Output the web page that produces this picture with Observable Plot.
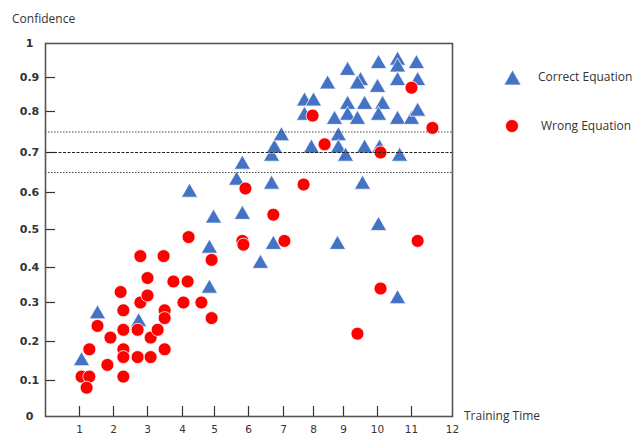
<!DOCTYPE html>
<html><head><meta charset="utf-8">
<script src="https://cdn.jsdelivr.net/npm/d3@7"></script>
<script src="https://cdn.jsdelivr.net/npm/@observablehq/plot@0.6"></script>
<style>
html,body{margin:0;padding:0;background:#fff;}
#wrap{position:relative;width:635px;height:436px;overflow:hidden;font-family:"Open Sans",sans-serif;}
#chart{position:absolute;left:0;top:0;}
.lbl{position:absolute;font-size:12px;color:#333;white-space:nowrap;line-height:14px;transform:translateY(-50%);}
.sym{position:absolute;overflow:visible;}
</style></head><body>
<div id="wrap">
  <div id="chart"></div>
  <div class="lbl" style="left:12px;top:19px">Confidence</div>
  <div class="lbl" style="left:464px;top:416px">Training Time</div>
  <svg class="sym" style="left:503px;top:69px" width="20" height="18"><polygon points="9.5,1 1,16 18,16" fill="#4472C4" stroke="#fff" stroke-width="0.7"/></svg>
  <div class="lbl" style="left:538px;top:77px">Correct Equation</div>
  <svg class="sym" style="left:504px;top:118px" width="16" height="16"><circle cx="8" cy="8" r="6.5" fill="#f00" stroke="#fff" stroke-width="0.8"/></svg>
  <div class="lbl" style="left:541px;top:126px">Wrong Equation</div>
</div>
<script>
// Correct Equation (blue triangles)
const correctTime = [1.06,1.53,2.74,4.22,4.84,4.84,4.97,5.65,5.82,5.82,6.34,6.66,6.66,6.74,6.94,6.71,7.7,8.0,7.7,8.47,9.12,9.5,9.41,10.03,10.59,11.12,10.59,10.59,11.15,10.0,9.12,9.62,10.15,9.12,10.03,8.7,9.41,10.59,11.0,11.15,8.83,8.83,7.93,9.06,9.62,10.06,10.65,9.56,10.03,8.8,10.59];
const correctConf = [0.15,0.27,0.25,0.60,0.45,0.34,0.53,0.63,0.67,0.54,0.41,0.62,0.69,0.71,0.74,0.46,0.83,0.83,0.79,0.88,0.92,0.89,0.88,0.94,0.95,0.94,0.93,0.89,0.89,0.87,0.82,0.82,0.82,0.79,0.79,0.78,0.78,0.78,0.78,0.80,0.74,0.71,0.71,0.69,0.71,0.71,0.69,0.62,0.51,0.46,0.31];
// Wrong Equation (red circles)
const wrongTime = [1.06,1.29,1.21,1.29,1.53,1.82,1.91,2.21,2.29,2.29,2.29,2.29,2.29,2.71,2.71,2.79,2.79,3.0,3.0,3.09,3.09,3.29,3.46,3.49,3.49,3.49,3.74,4.03,4.16,4.19,4.59,4.91,4.91,5.82,5.85,5.91,6.71,7.03,7.67,7.97,8.37,10.09,11.0,11.51,11.15,10.09,9.41];
const wrongConf = [0.11,0.11,0.08,0.18,0.24,0.14,0.21,0.33,0.28,0.23,0.18,0.16,0.11,0.16,0.23,0.30,0.43,0.37,0.32,0.21,0.16,0.23,0.43,0.28,0.26,0.18,0.36,0.30,0.36,0.48,0.30,0.42,0.26,0.47,0.46,0.61,0.54,0.47,0.62,0.79,0.72,0.70,0.87,0.76,0.47,0.34,0.22];
// Axes
const xTicks = [0,1,2,3,4,5,6,7,8,9,10,11,12];
const xTickLabels = ["","1","2","3","4","5","6","7","8","9","10","11","12"];
const yTicks = [0,0.1,0.2,0.3,0.4,0.5,0.6,0.7,0.8,0.9,1];
const yTickLabels = ["0","0.1","0.2","0.3","0.4","0.5","0.6","0.7","0.8","0.9","1"];
// Reference lines
const thresholdsDotted = [0.65,0.75];
const thresholdsDashed = [0.7];

const correct = correctTime.map((t,i)=>({t, c: correctConf[i]}));
const wrong = wrongTime.map((t,i)=>({t, c: wrongConf[i]}));

// Layout: the original axes are hand-spaced, so warp values piecewise before the linear scale
const xRange = [45,79,113,147,182,214,248,283,313,343,377,411,452];
const yRange = [416,380,341,302,267,229,192,152,111,77,43];
const warpX = d3.scaleLinear().domain(xTicks).range(xRange);
const warpY = d3.scaleLinear().domain(yTicks).range(yRange);
const W = 635, H = 436;
const mL = xRange[0], mR = W - xRange[xRange.length-1], mT = yRange[yRange.length-1], mB = H - yRange[0];
const frameW = W - mL - mR, frameH = H - mT - mB;
const tickLen = 10;

const plot = Plot.plot({
  width: W, height: H,
  marginLeft: mL, marginRight: mR, marginTop: mT, marginBottom: mB,
  style: {fontFamily: "DejaVu Sans", fontSize: "11px", color: "#333", background: "white", overflow: "visible"},
  x: {type: "linear", domain: [mL, W - mR], range: [mL, W - mR], transform: v => warpX(v), axis: null},
  y: {type: "linear", domain: [H - mB, mT], range: [H - mB, mT], transform: v => warpY(v), axis: null},
  marks: [
    Plot.axisY(yTicks, {tickSize: 0, tickPadding: 16, textAnchor: "middle", fontWeight: "bold", fill: "#333",
      tickFormat: d => yTickLabels[yTicks.indexOf(d)], label: null}),
    Plot.axisX(xTicks, {tickSize: 0, tickPadding: 9, fontSize: 10.5, fill: "#333",
      tickFormat: d => xTickLabels[xTicks.indexOf(d)], label: null}),
    Plot.tickY(yTicks.slice(1,-1), {y: d => d, insetRight: frameW - tickLen, stroke: "#333", strokeWidth: 1.2}),
    Plot.tickX(xTicks.slice(1,-1), {x: d => d, insetTop: frameH - tickLen, stroke: "#333", strokeWidth: 1.2}),
    Plot.dot(correct, {x: "t", y: "c", symbol: "triangle", r: 6, fill: "#4472C4", stroke: "#fff", strokeWidth: 0.7}),
    Plot.dot(wrong, {x: "t", y: "c", r: 6.5, fill: "#f00", stroke: "#fff", strokeWidth: 0.8}),
    Plot.ruleY(thresholdsDotted, {stroke: "#444", strokeWidth: 1, strokeDasharray: "1.5,1.5"}),
    Plot.ruleY(thresholdsDashed, {stroke: "#222", strokeWidth: 1, strokeDasharray: "3,1.5"}),
    Plot.frame({stroke: "#555", strokeWidth: 1.6})
  ]
});
document.getElementById("chart").appendChild(plot);
</script>
</body></html>
